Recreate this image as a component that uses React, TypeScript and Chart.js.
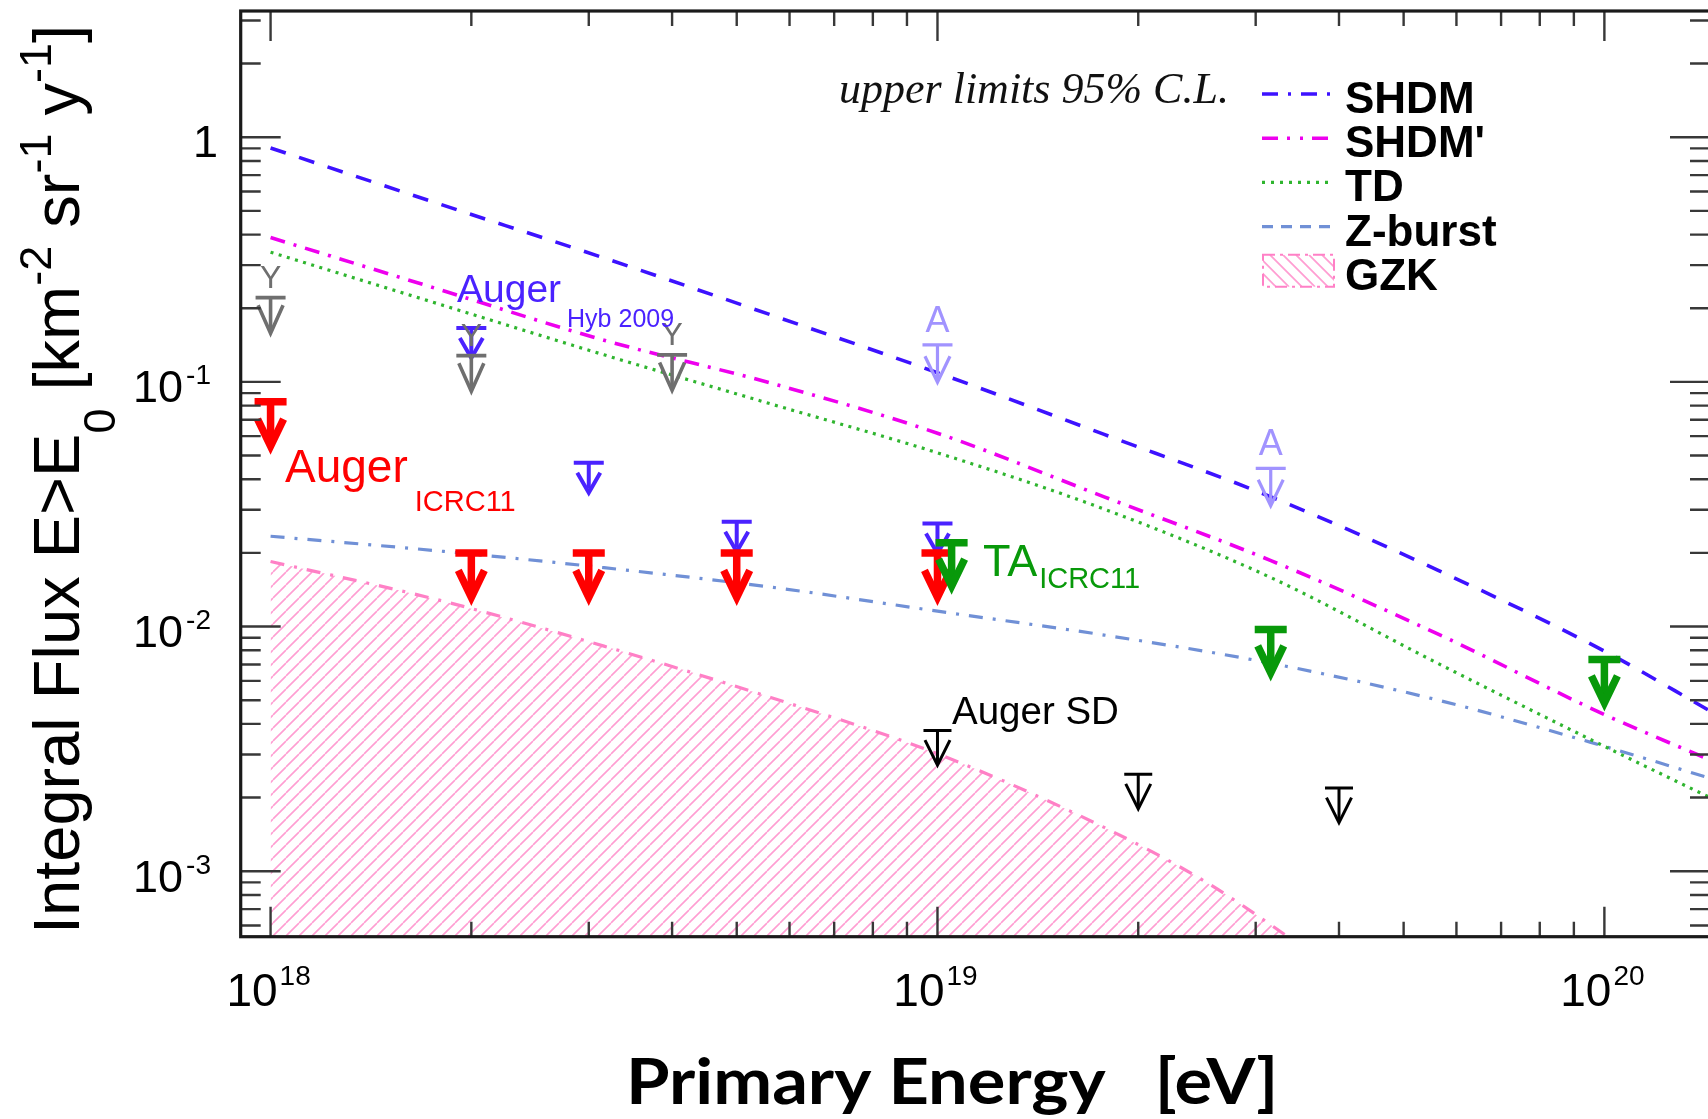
import React, { useEffect, useRef } from 'react';
import { Chart, registerables } from 'chart.js';

Chart.register(...registerables);

// ---------- model predictions: integral photon flux above E0 (km^-2 sr^-1 yr^-1) ----------
const MODEL_ENERGY_EV = [1e18, 1.778e18, 3.162e18, 5.623e18, 1e19, 1.778e19, 3.162e19, 5.623e19, 1e20, 1.44e20];
const SHDM_FLUX = [0.904, 0.537, 0.321, 0.188, 0.109, 0.061, 0.0339, 0.017, 0.00794, 0.00452];
const SHDM_PRIME_FLUX = [0.389, 0.24, 0.148, 0.0989, 0.0617, 0.0339, 0.0186, 0.00933, 0.00437, 0.00285];
const TD_FLUX = [0.339, 0.209, 0.129, 0.0813, 0.0513, 0.0302, 0.01585, 0.00708, 0.00324, 0.002];
const ZBURST_FLUX = [0.0234, 0.0204, 0.0174, 0.0145, 0.01156, 0.00923, 0.00708, 0.00501, 0.00324, 0.0024];
const GZK_ENERGY_EV = [1e18, 1.778e18, 3.162e18, 5.623e18, 1e19, 1.778e19, 2.512e19, 3.162e19, 3.548e19, 4.17e19];
const GZK_FLUX = [0.01845, 0.01288, 0.00832, 0.00513, 0.00302, 0.00151, 0.000912, 0.000603, 0.000479, 0.000316];

// ---------- 95% C.L. upper limits ----------
const AUGER_ICRC11_E = [1e18, 2e18, 3e18, 5e18, 1e19];
const AUGER_ICRC11_UL = [0.083, 0.02, 0.02, 0.02, 0.02];
const AUGER_HYB_E = [2e18, 3e18, 5e18, 1e19];
const AUGER_HYB_UL = [0.166, 0.0467, 0.0268, 0.0264];
const AGASA_E = [1e19, 3.16e19];
const AGASA_UL = [0.1416, 0.0443];
const YAKUTSK_E = [1e18, 2e18, 4e18];
const YAKUTSK_UL = [0.221, 0.128, 0.129];
const TA_ICRC11_E = [1.05e19, 3.16e19, 1e20];
const TA_ICRC11_UL = [0.022, 0.00973, 0.00734];
const AUGER_SD_E = [1e19, 2e19, 4e19];
const AUGER_SD_UL = [0.00376, 0.00249, 0.00219];

// ---------- axes ----------
const X_RANGE = [9.02e17, 1.44e20];
const Y_RANGE = [5.4e-4, 3.28];
const X_TICK_VALUES = [1e18, 1e19, 1e20];
const X_TICK_EXPONENTS = ['18', '19', '20'];
const Y_TICK_VALUES = [1, 0.1, 0.01, 0.001];
const Y_TICK_EXPONENTS = ['', '-1', '-2', '-3'];
const LEGEND_NAMES = ['SHDM', "SHDM'", 'TD', 'Z-burst', 'GZK'];

const SANS = '"Liberation Sans", Arial, Helvetica, sans-serif';
const SERIF = '"Liberation Serif", "Times New Roman", serif';

const CANVAS_W = 1712;
const CANVAS_H = 1119;
const FRAME = { left: 240.7, top: 11, right: 1710, bottom: 936.7 };

const COLORS = {
  shdm: '#3d12ff',
  shdmPrime: '#ee00ee',
  td: '#2fb52f',
  zburst: '#7090d6',
  gzk: '#ff80c6',
  gzkHatch: '#ff9ed2',
  red: '#ff0000',
  blue: '#4a22ff',
  lavender: '#a193ff',
  gray: '#6f6f6f',
  green: '#08990a',
  black: '#000000',
};

// legend line patterns
const LEGEND_STYLES = [
  { color: COLORS.shdm, width: 3.5, dash: [16, 10, 3, 10] },
  { color: COLORS.shdmPrime, width: 3.5, dash: [16, 9, 3, 10, 3, 9] },
  { color: COLORS.td, width: 3.2, dash: [3, 6] },
  { color: COLORS.zburst, width: 3.2, dash: [11, 8] },
  { color: COLORS.gzk, width: 2, dash: [], hatch: true },
];

type ArrowStyle = { color: string; bar: number; len: number; headH: number; headW: number; lw: number };

const ARROW_STYLES: Record<string, ArrowStyle> = {
  'Auger ICRC11': { color: COLORS.red, bar: 32, len: 53, headH: 27, headW: 13, lw: 7.5 },
  'TA ICRC11': { color: COLORS.green, bar: 32, len: 52, headH: 27, headW: 13, lw: 7.5 },
  'Auger Hyb 2009': { color: COLORS.blue, bar: 30, len: 34, headH: 20, headW: 11.5, lw: 4 },
  AGASA: { color: COLORS.lavender, bar: 30, len: 41, headH: 26, headW: 12.5, lw: 3.2 },
  Yakutsk: { color: COLORS.gray, bar: 30, len: 40, headH: 28, headW: 12.5, lw: 3.6 },
  'Auger SD': { color: COLORS.black, bar: 28, len: 38, headH: 25, headW: 12.5, lw: 3 },
};
const ARROW_ORDER = ['AGASA', 'Auger Hyb 2009', 'Yakutsk', 'Auger SD', 'Auger ICRC11', 'TA ICRC11'];

const toXY = (xs: number[], ys: number[]) => xs.map((x, i) => ({ x, y: ys[i] }));

function makeHatch(color: string, step: number, lw: number): CanvasPattern | string {
  const c = document.createElement('canvas');
  c.width = step;
  c.height = step;
  const g = c.getContext('2d');
  if (!g) return color;
  g.strokeStyle = color;
  g.lineWidth = lw;
  g.beginPath();
  for (const off of [-step, 0, step]) {
    g.moveTo(off, step);
    g.lineTo(off + step, 0);
  }
  g.stroke();
  return g.createPattern(c, 'repeat') || color;
}

function drawArrow(ctx: CanvasRenderingContext2D, x: number, y: number, s: ArrowStyle) {
  const theta = Math.atan2(s.headW, s.headH);
  const tipY = y + s.len - s.lw / 2 / Math.sin(theta);
  ctx.save();
  ctx.strokeStyle = s.color;
  ctx.lineWidth = s.lw;
  ctx.lineCap = 'butt';
  ctx.lineJoin = 'miter';
  ctx.beginPath();
  ctx.moveTo(x - s.bar / 2, y);
  ctx.lineTo(x + s.bar / 2, y);
  ctx.moveTo(x, y);
  ctx.lineTo(x, tipY - s.lw);
  ctx.stroke();
  ctx.beginPath();
  ctx.moveTo(x - s.headW, tipY - s.headH);
  ctx.lineTo(x, tipY);
  ctx.lineTo(x + s.headW, tipY - s.headH);
  ctx.stroke();
  ctx.restore();
}

function textWithSub(
  ctx: CanvasRenderingContext2D,
  main: string,
  sub: string,
  x: number,
  base: number,
  size: number,
  subSize: number,
  subBase: number,
  gap: number,
  color: string
) {
  ctx.fillStyle = color;
  ctx.font = `${size}px ${SANS}`;
  ctx.fillText(main, x, base);
  const w = ctx.measureText(main).width;
  ctx.font = `${subSize}px ${SANS}`;
  ctx.fillText(sub, x + w + gap, subBase);
}

const limitsPlugin = {
  id: 'limitArrows',
  afterDatasetsDraw(chart: any) {
    const ctx: CanvasRenderingContext2D = chart.ctx;
    for (const label of ARROW_ORDER) {
      const idx = chart.data.datasets.findIndex((d: any) => d.label === label);
      if (idx < 0) continue;
      const meta = chart.getDatasetMeta(idx);
      const style = ARROW_STYLES[label];
      meta.data.forEach((pt: any) => drawArrow(ctx, pt.x, pt.y, style));
      // experiment initials above the markers
      if (label === 'Yakutsk' || label === 'AGASA') {
        ctx.save();
        ctx.textAlign = 'center';
        ctx.fillStyle = style.color;
        ctx.font = label === 'AGASA' ? `36px ${SANS}` : `32px ${SANS}`;
        const letter = label === 'AGASA' ? 'A' : 'Y';
        const rise = label === 'AGASA' ? 13 : 10;
        meta.data.forEach((pt: any) => ctx.fillText(letter, pt.x, pt.y - rise));
        ctx.restore();
      }
    }
  },
};

const decorPlugin = {
  id: 'decor',
  afterDraw(chart: any) {
    const ctx: CanvasRenderingContext2D = chart.ctx;
    const a = chart.chartArea;
    const xs = chart.scales.x;
    const ys = chart.scales.y;
    ctx.save();
    ctx.textAlign = 'left';
    ctx.textBaseline = 'alphabetic';

    // experiment labels
    textWithSub(ctx, 'Auger', 'Hyb 2009', 457, 302, 39, 25, 327, 6, COLORS.blue);
    textWithSub(ctx, 'Auger', 'ICRC11', 285, 482, 46, 29, 511, 7, COLORS.red);
    textWithSub(ctx, 'TA', 'ICRC11', 983, 576, 45, 29, 588, 2, COLORS.green);
    ctx.fillStyle = COLORS.black;
    ctx.font = `38.5px ${SANS}`;
    ctx.fillText('Auger SD', 952, 724);

    // ticks on all four sides, pointing inwards
    ctx.strokeStyle = '#383838';
    ctx.lineWidth = 2.4;
    ctx.beginPath();
    for (let d = 17; d <= 20; d++) {
      for (let m = 1; m < 10; m++) {
        const v = m * Math.pow(10, d);
        if (v < xs.min || v > xs.max) continue;
        const p = xs.getPixelForValue(v);
        const len = m === 1 ? 30 : 15;
        ctx.moveTo(p, a.bottom);
        ctx.lineTo(p, a.bottom - len);
        ctx.moveTo(p, a.top);
        ctx.lineTo(p, a.top + len);
      }
    }
    for (let d = -4; d <= 0; d++) {
      for (let m = 1; m < 10; m++) {
        const v = m * Math.pow(10, d);
        if (v < ys.min || v > ys.max) continue;
        const p = ys.getPixelForValue(v);
        const len = m === 1 ? 40 : 20;
        ctx.moveTo(a.left, p);
        ctx.lineTo(a.left + len, p);
        ctx.moveTo(a.right, p);
        ctx.lineTo(a.right - len, p);
      }
    }
    ctx.stroke();
    ctx.strokeStyle = '#1a1a1a';
    ctx.lineWidth = 3.2;
    ctx.strokeRect(a.left, a.top, a.right - a.left, a.bottom - a.top);

    // tick labels as powers of ten
    ctx.fillStyle = '#000';
    X_TICK_VALUES.forEach((v, i) => {
      const px = xs.getPixelForValue(v) - 2;
      ctx.font = `46px ${SANS}`;
      const w1 = ctx.measureText('10').width;
      ctx.font = `28px ${SANS}`;
      const w2 = ctx.measureText(X_TICK_EXPONENTS[i]).width;
      const x0 = px - (w1 + 2 + w2) / 2;
      ctx.font = `46px ${SANS}`;
      ctx.fillText('10', x0, 1006);
      ctx.font = `28px ${SANS}`;
      ctx.fillText(X_TICK_EXPONENTS[i], x0 + w1 + 2, 985);
    });
    Y_TICK_VALUES.forEach((v, i) => {
      const py = ys.getPixelForValue(v);
      const e = Y_TICK_EXPONENTS[i];
      if (!e) {
        ctx.font = `45px ${SANS}`;
        const w = ctx.measureText('1').width;
        ctx.fillText('1', 218 - w, py + 20);
        return;
      }
      ctx.font = `28px ${SANS}`;
      const w2 = ctx.measureText(e).width;
      ctx.fillText(e, 211 - w2, py + 2.5);
      ctx.font = `45px ${SANS}`;
      const w1 = ctx.measureText('10').width;
      ctx.fillText('10', 211 - w2 - 3 - w1, py + 20.5);
    });

    // y-axis title, rotated
    ctx.save();
    ctx.translate(78.5, 934);
    ctx.rotate(-Math.PI / 2);
    const F = 65;
    const S = 45;
    const parts: [string, number, number][] = [
      ['Integral Flux E>E', F, 0],
      ['0', S, 36],
      [' [km', F, 0],
      ['-2', S, -28],
      [' sr', F, 0],
      ['-1', S, -28],
      [' y', F, 0],
      ['-1', S, -28],
      [']', F, 0],
    ];
    let tx = 0;
    for (const [t, size, dy] of parts) {
      ctx.font = `${size}px ${SANS}`;
      ctx.fillText(t, tx, dy);
      tx += ctx.measureText(t).width;
    }
    ctx.restore();

    // x-axis title
    ctx.save();
    ctx.font = `bold 64px Lato, "Open Sans", sans-serif`;
    const wMain = ctx.measureText('Primary Energy').width;
    const k = (1105.6 - 626) / wMain;
    ctx.translate(626, 1104);
    ctx.scale(k, 1);
    ctx.fillText('Primary Energy', 0, 0);
    ctx.fillText('[eV]', (1154.7 - 626) / k, 0);
    ctx.restore();

    // legend
    ctx.fillStyle = '#111';
    ctx.font = `italic 44px ${SERIF}`;
    ctx.fillText('upper limits 95% C.L.', 839, 103);
    LEGEND_NAMES.forEach((name, i) => {
      const base = 113 + i * 44.2;
      const st = LEGEND_STYLES[i];
      if (st.hatch) {
        const bx = 1263;
        const by = base - 35;
        const bw = 71;
        const bh = 32;
        ctx.save();
        ctx.beginPath();
        ctx.rect(bx, by, bw, bh);
        ctx.clip();
        ctx.strokeStyle = COLORS.gzkHatch;
        ctx.lineWidth = 1.8;
        ctx.beginPath();
        for (let o = -bh; o < bw + bh; o += 13) {
          ctx.moveTo(bx + o, by);
          ctx.lineTo(bx + o + bh, by + bh);
        }
        ctx.stroke();
        ctx.restore();
        ctx.strokeStyle = st.color;
        ctx.lineWidth = st.width;
        ctx.setLineDash([12, 5, 3, 5]);
        ctx.strokeRect(bx, by, bw, bh);
        ctx.setLineDash([]);
      } else {
        ctx.strokeStyle = st.color;
        ctx.lineWidth = st.width;
        ctx.setLineDash(st.dash);
        ctx.beginPath();
        ctx.moveTo(1262, base - 19);
        ctx.lineTo(1332, base - 19);
        ctx.stroke();
        ctx.setLineDash([]);
      }
      ctx.fillStyle = '#000';
      ctx.font = `bold 44px ${SANS}`;
      ctx.fillText(name, 1345, base);
    });

    ctx.restore();
  },
};

export default function App() {
  const canvasRef = useRef<HTMLCanvasElement>(null);

  useEffect(() => {
    const canvas = canvasRef.current;
    if (!canvas) return;
    const hatch = makeHatch(COLORS.gzkHatch, 13, 1.6);

    const curve = (label: string, data: any[], color: string, width: number, dash: number[], extra: any = {}) => ({
      label,
      data,
      borderColor: color,
      borderWidth: width,
      borderDash: dash,
      pointRadius: 0,
      pointHoverRadius: 0,
      fill: false,
      cubicInterpolationMode: 'monotone',
      ...extra,
    });
    const limits = (label: string, xs: number[], ys: number[]) => ({
      label,
      data: toXY(xs, ys),
      showLine: false,
      pointRadius: 0,
      pointHoverRadius: 0,
      borderColor: ARROW_STYLES[label].color,
      backgroundColor: ARROW_STYLES[label].color,
    });

    const chart = new Chart(canvas, {
      type: 'line',
      data: {
        datasets: [
          limits('Auger ICRC11', AUGER_ICRC11_E, AUGER_ICRC11_UL),
          limits('TA ICRC11', TA_ICRC11_E, TA_ICRC11_UL),
          limits('Auger Hyb 2009', AUGER_HYB_E, AUGER_HYB_UL),
          limits('AGASA', AGASA_E, AGASA_UL),
          limits('Yakutsk', YAKUTSK_E, YAKUTSK_UL),
          limits('Auger SD', AUGER_SD_E, AUGER_SD_UL),
          curve('SHDM', toXY(MODEL_ENERGY_EV, SHDM_FLUX), COLORS.shdm, 3.6, [16, 14]),
          curve("SHDM'", toXY(MODEL_ENERGY_EV, SHDM_PRIME_FLUX), COLORS.shdmPrime, 3.6, [15, 9, 3, 9]),
          curve('TD', toXY(MODEL_ENERGY_EV, TD_FLUX), COLORS.td, 3.2, [3, 5.5]),
          curve('Z-burst', toXY(MODEL_ENERGY_EV, ZBURST_FLUX), COLORS.zburst, 3.2, [14, 10, 3, 10]),
          curve('GZK', toXY(GZK_ENERGY_EV, GZK_FLUX), COLORS.gzk, 3.2, [14, 10, 3, 10], {
            fill: 'start',
            backgroundColor: hatch,
          }),
        ],
      },
      options: {
        responsive: false,
        devicePixelRatio: 1,
        animation: false,
        events: [],
        layout: {
          padding: {
            left: FRAME.left,
            top: FRAME.top,
            right: CANVAS_W - FRAME.right,
            bottom: CANVAS_H - FRAME.bottom,
          },
        },
        scales: {
          x: { type: 'logarithmic', min: X_RANGE[0], max: X_RANGE[1], display: false },
          y: { type: 'logarithmic', min: Y_RANGE[0], max: Y_RANGE[1], display: false },
        },
        plugins: {
          legend: { display: false },
          tooltip: { enabled: false },
        },
      } as any,
      plugins: [limitsPlugin, decorPlugin],
    } as any);

    return () => chart.destroy();
  }, []);

  return (
    <div
      style={{
        position: 'fixed',
        left: 0,
        top: 0,
        width: 1708,
        height: 1119,
        overflow: 'hidden',
        background: '#ffffff',
      }}
    >
      <canvas
        ref={canvasRef}
        width={CANVAS_W}
        height={CANVAS_H}
        style={{ display: 'block', width: CANVAS_W, height: CANVAS_H }}
      />
    </div>
  );
}
